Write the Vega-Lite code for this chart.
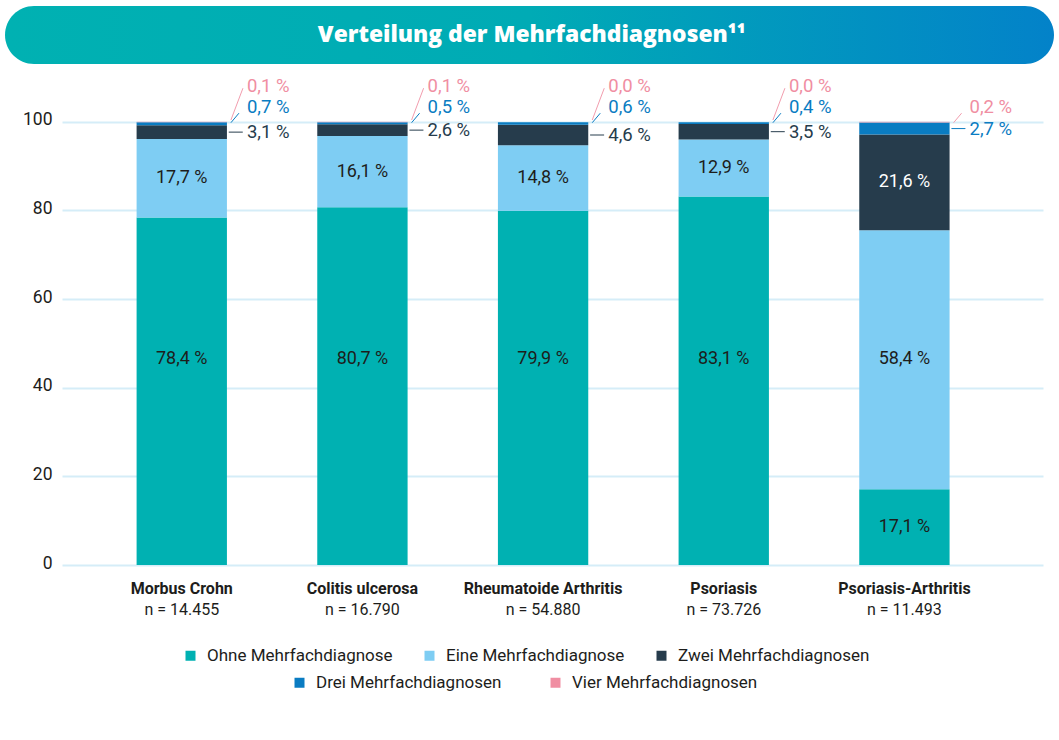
{
  "$schema": "https://vega.github.io/schema/vega-lite/v6.json",
  "width": 981,
  "height": 559,
  "autosize": {"type": "none"},
  "padding": {"left": 62, "top": 6, "right": 16, "bottom": 175},
  "background": "white",
  "config": {"view": {"stroke": null}, "font": "Roboto"},
  "datasets": {
    "shares": [
      {"cat": "Morbus Crohn|n = 14.455", "series": "Ohne Mehrfachdiagnose", "order": 1, "value": 78.4, "label": "78,4 %"},
      {"cat": "Morbus Crohn|n = 14.455", "series": "Eine Mehrfachdiagnose", "order": 2, "value": 17.7, "label": "17,7 %"},
      {"cat": "Morbus Crohn|n = 14.455", "series": "Zwei Mehrfachdiagnosen", "order": 3, "value": 3.1, "label": "3,1 %"},
      {"cat": "Morbus Crohn|n = 14.455", "series": "Drei Mehrfachdiagnosen", "order": 4, "value": 0.7, "label": "0,7 %"},
      {"cat": "Morbus Crohn|n = 14.455", "series": "Vier Mehrfachdiagnosen", "order": 5, "value": 0.1, "label": "0,1 %"},
      {"cat": "Colitis ulcerosa|n = 16.790", "series": "Ohne Mehrfachdiagnose", "order": 1, "value": 80.7, "label": "80,7 %"},
      {"cat": "Colitis ulcerosa|n = 16.790", "series": "Eine Mehrfachdiagnose", "order": 2, "value": 16.1, "label": "16,1 %"},
      {"cat": "Colitis ulcerosa|n = 16.790", "series": "Zwei Mehrfachdiagnosen", "order": 3, "value": 2.6, "label": "2,6 %"},
      {"cat": "Colitis ulcerosa|n = 16.790", "series": "Drei Mehrfachdiagnosen", "order": 4, "value": 0.5, "label": "0,5 %"},
      {"cat": "Colitis ulcerosa|n = 16.790", "series": "Vier Mehrfachdiagnosen", "order": 5, "value": 0.1, "label": "0,1 %"},
      {"cat": "Rheumatoide Arthritis|n = 54.880", "series": "Ohne Mehrfachdiagnose", "order": 1, "value": 79.9, "label": "79,9 %"},
      {"cat": "Rheumatoide Arthritis|n = 54.880", "series": "Eine Mehrfachdiagnose", "order": 2, "value": 14.8, "label": "14,8 %"},
      {"cat": "Rheumatoide Arthritis|n = 54.880", "series": "Zwei Mehrfachdiagnosen", "order": 3, "value": 4.6, "label": "4,6 %"},
      {"cat": "Rheumatoide Arthritis|n = 54.880", "series": "Drei Mehrfachdiagnosen", "order": 4, "value": 0.6, "label": "0,6 %"},
      {"cat": "Rheumatoide Arthritis|n = 54.880", "series": "Vier Mehrfachdiagnosen", "order": 5, "value": 0.0, "label": "0,0 %"},
      {"cat": "Psoriasis|n = 73.726", "series": "Ohne Mehrfachdiagnose", "order": 1, "value": 83.1, "label": "83,1 %"},
      {"cat": "Psoriasis|n = 73.726", "series": "Eine Mehrfachdiagnose", "order": 2, "value": 12.9, "label": "12,9 %"},
      {"cat": "Psoriasis|n = 73.726", "series": "Zwei Mehrfachdiagnosen", "order": 3, "value": 3.5, "label": "3,5 %"},
      {"cat": "Psoriasis|n = 73.726", "series": "Drei Mehrfachdiagnosen", "order": 4, "value": 0.4, "label": "0,4 %"},
      {"cat": "Psoriasis|n = 73.726", "series": "Vier Mehrfachdiagnosen", "order": 5, "value": 0.0, "label": "0,0 %"},
      {"cat": "Psoriasis-Arthritis|n = 11.493", "series": "Ohne Mehrfachdiagnose", "order": 1, "value": 17.1, "label": "17,1 %"},
      {"cat": "Psoriasis-Arthritis|n = 11.493", "series": "Eine Mehrfachdiagnose", "order": 2, "value": 58.4, "label": "58,4 %"},
      {"cat": "Psoriasis-Arthritis|n = 11.493", "series": "Zwei Mehrfachdiagnosen", "order": 3, "value": 21.6, "label": "21,6 %"},
      {"cat": "Psoriasis-Arthritis|n = 11.493", "series": "Drei Mehrfachdiagnosen", "order": 4, "value": 2.7, "label": "2,7 %"},
      {"cat": "Psoriasis-Arthritis|n = 11.493", "series": "Vier Mehrfachdiagnosen", "order": 5, "value": 0.2, "label": "0,2 %"}
    ]
  },
  "layer": [
    {
      "data": {"values": [{"title": "Verteilung der Mehrfachdiagnosen¹¹"}]},
      "layer": [
        {
          "mark": {
            "type": "rect",
            "cornerRadius": 29,
            "color": {
              "gradient": "linear",
              "x1": 0, "y1": 0, "x2": 1, "y2": 0,
              "stops": [
                {"offset": 0, "color": "#00b1b2"},
                {"offset": 0.5, "color": "#00abb5"},
                {"offset": 1, "color": "#0382c9"}
              ]
            }
          },
          "encoding": {
            "x": {"datum": -0.0581, "type": "quantitative", "scale": {"domain": [0, 1], "nice": false, "zero": false}, "axis": null},
            "x2": {"datum": 1.0112},
            "y": {"datum": 113.0, "type": "quantitative"},
            "y2": {"datum": 126.1}
          }
        },
        {
          "mark": {"type": "text", "font": "Open Sans", "fontSize": 22.8, "fontWeight": 800, "color": "white", "baseline": "middle", "align": "center"},
          "encoding": {
            "x": {"datum": 0.479, "type": "quantitative", "axis": null},
            "y": {"datum": 119.6, "type": "quantitative"},
            "text": {"field": "title"}
          }
        }
      ]
    },
    {
      "data": {"name": "shares"},
      "layer": [
        {
          "mark": {"type": "bar"},
          "encoding": {
            "x": {
              "field": "cat", "type": "nominal", "sort": null,
              "scale": {"paddingInner": 0.5, "paddingOuter": 0.465, "align": 0.444},
              "axis": {"orient": "bottom", "title": null, "labelExpr": "split(datum.value, '|')[0]", "labelFontWeight": "bold", "labelFontSize": 16, "labelColor": "#1d1d1b", "labelPadding": 23, "labelBaseline": "middle", "ticks": false, "tickSize": 0, "domain": false, "labelAngle": 0, "labelLimit": 300, "grid": false}
            },
            "y": {
              "field": "value", "type": "quantitative", "stack": "zero",
              "scale": {"domain": [0, 126.1], "nice": false},
              "axis": {"title": null, "values": [0, 20, 40, 60, 80, 100], "grid": true, "gridColor": "#d5edf8", "gridWidth": 2, "domain": false, "ticks": false, "tickSize": 0, "labelFontSize": 17.5, "labelColor": "#1d1d1b", "labelPadding": 10, "labelBaseline": "middle", "labelOffset": -2}
            },
            "color": {
              "field": "series", "type": "nominal",
              "scale": {
                "domain": ["Ohne Mehrfachdiagnose", "Eine Mehrfachdiagnose", "Zwei Mehrfachdiagnosen", "Drei Mehrfachdiagnosen", "Vier Mehrfachdiagnosen"],
                "range": ["#00b1b2", "#7ecdf3", "#263c4c", "#0a7cc2", "#f29dae"]
              },
              "legend": {
                "orient": "none", "legendX": 120, "legendY": 641, "direction": "horizontal", "title": null,
                "values": ["Ohne Mehrfachdiagnose", "Eine Mehrfachdiagnose", "Zwei Mehrfachdiagnosen"],
                "symbolType": "square", "symbolSize": 100, "symbolStrokeWidth": 0,
                "labelFontSize": 17, "labelColor": "#1d1d1b", "labelOffset": 8, "columnPadding": 28, "labelLimit": 400, "padding": 0
              }
            },
            "order": {"field": "order", "type": "quantitative"}
          }
        },
        {
          "mark": {"type": "text", "fontSize": 18, "baseline": "middle", "align": "center"},
          "encoding": {
            "x": {"field": "cat", "type": "nominal", "sort": null, "axis": null},
            "y": {"field": "value", "type": "quantitative", "stack": "zero", "bandPosition": 0.5},
            "detail": {"field": "series"},
            "order": {"field": "order", "type": "quantitative"},
            "text": {"condition": {"test": "datum.value >= 5 && datum.value <= 50", "field": "label"}, "value": ""},
            "color": {"condition": {"test": "datum.series === 'Zwei Mehrfachdiagnosen'", "value": "white"}, "value": "#1d1d1b"}
          }
        },
        {
          "transform": [{"filter": "datum.value > 50"}],
          "mark": {"type": "text", "fontSize": 18, "baseline": "middle", "align": "center", "color": "#1d1d1b"},
          "encoding": {
            "x": {
              "field": "cat", "type": "nominal", "sort": null,
              "axis": {"orient": "bottom", "title": null, "labelExpr": "split(datum.value, '|')[1]", "labelFontWeight": "normal", "labelFontSize": 16, "labelColor": "#1d1d1b", "labelPadding": 44, "labelBaseline": "middle", "ticks": false, "tickSize": 0, "domain": false, "labelAngle": 0, "labelLimit": 300, "grid": false}
            },
            "y": {"datum": 46.5, "type": "quantitative"},
            "text": {"field": "label"}
          }
        },
        {
          "mark": {"type": "text", "fontSize": 18.5, "baseline": "middle", "align": "left", "dx": 20},
          "encoding": {
            "x": {"field": "cat", "type": "nominal", "sort": null, "bandPosition": 1, "axis": null},
            "y": {"field": "value", "type": "quantitative", "stack": "zero", "bandPosition": 0.5},
            "order": {"field": "order", "type": "quantitative"},
            "text": {"condition": {"test": "datum.value >= 1 && datum.value < 5", "field": "label"}, "value": ""},
            "fill": {
              "field": "series", "type": "nominal",
              "scale": {"domain": ["Zwei Mehrfachdiagnosen", "Drei Mehrfachdiagnosen", "Vier Mehrfachdiagnosen"], "range": ["#263c4c", "#0a7cc2", "#f08ea2"]},
              "legend": {
                "orient": "none", "legendX": 229, "legendY": 668, "direction": "horizontal", "title": null,
                "values": ["Drei Mehrfachdiagnosen", "Vier Mehrfachdiagnosen"],
                "symbolType": "square", "symbolSize": 100, "symbolStrokeWidth": 0, "symbolOpacity": 1,
                "labelFontSize": 17, "labelColor": "#1d1d1b", "labelOffset": 8, "columnPadding": 45, "labelLimit": 400, "padding": 0
              }
            }
          }
        },
        {
          "mark": {"type": "tick", "size": 14, "thickness": 1, "xOffset": 54},
          "encoding": {
            "x": {"field": "cat", "type": "nominal", "sort": null, "axis": null},
            "y": {"field": "value", "type": "quantitative", "stack": "zero", "bandPosition": 0.5},
            "order": {"field": "order", "type": "quantitative"},
            "color": {"field": "series", "type": "nominal", "legend": null},
            "opacity": {"condition": {"test": "datum.value >= 1 && datum.value < 5", "value": 1}, "value": 0}
          }
        },
        {
          "transform": [
            {"filter": "datum.value < 1"},
            {"window": [{"op": "rank", "as": "tier"}], "groupby": ["cat"], "sort": [{"field": "order"}]},
            {"filter": "datum.tier === 1"}
          ],
          "layer": [
            {
              "mark": {"type": "text", "fontSize": 18.5, "baseline": "middle", "align": "left", "dx": 20, "dy": -15},
              "encoding": {
                "x": {"field": "cat", "type": "nominal", "sort": null, "bandPosition": 1, "axis": null},
                "y": {"datum": 100, "type": "quantitative"},
                "text": {"field": "label"},
                "fill": {"field": "series", "type": "nominal", "legend": null}
              }
            },
            {
              "mark": {"type": "rule", "strokeWidth": 1, "xOffset": 4, "x2Offset": 12, "yOffset": 1, "y2Offset": -8.5},
              "encoding": {
                "x": {"field": "cat", "type": "nominal", "sort": null, "bandPosition": 1, "axis": null},
                "x2": {"field": "cat", "bandPosition": 1},
                "y": {"datum": 100, "type": "quantitative"},
                "y2": {"datum": 100},
                "color": {"field": "series", "type": "nominal", "legend": null}
              }
            }
          ]
        },
        {
          "transform": [
            {"filter": "datum.value < 1"},
            {"window": [{"op": "rank", "as": "tier"}], "groupby": ["cat"], "sort": [{"field": "order"}]},
            {"filter": "datum.tier === 2"}
          ],
          "layer": [
            {
              "mark": {"type": "text", "fontSize": 18.5, "baseline": "middle", "align": "left", "dx": 20, "dy": -36},
              "encoding": {
                "x": {"field": "cat", "type": "nominal", "sort": null, "bandPosition": 1, "axis": null},
                "y": {"datum": 100, "type": "quantitative"},
                "text": {"field": "label"},
                "fill": {"field": "series", "type": "nominal", "legend": null}
              }
            },
            {
              "mark": {"type": "rule", "strokeWidth": 1, "xOffset": 4, "x2Offset": 16, "yOffset": -1.7, "y2Offset": -33.5},
              "encoding": {
                "x": {"field": "cat", "type": "nominal", "sort": null, "bandPosition": 1, "axis": null},
                "x2": {"field": "cat", "bandPosition": 1},
                "y": {"datum": 100, "type": "quantitative"},
                "y2": {"datum": 100},
                "color": {"field": "series", "type": "nominal", "legend": null}
              }
            }
          ]
        }
      ],
      "resolve": {"axis": {"x": "independent"}}
    }
  ],
  "resolve": {"scale": {"x": "independent"}}
}
